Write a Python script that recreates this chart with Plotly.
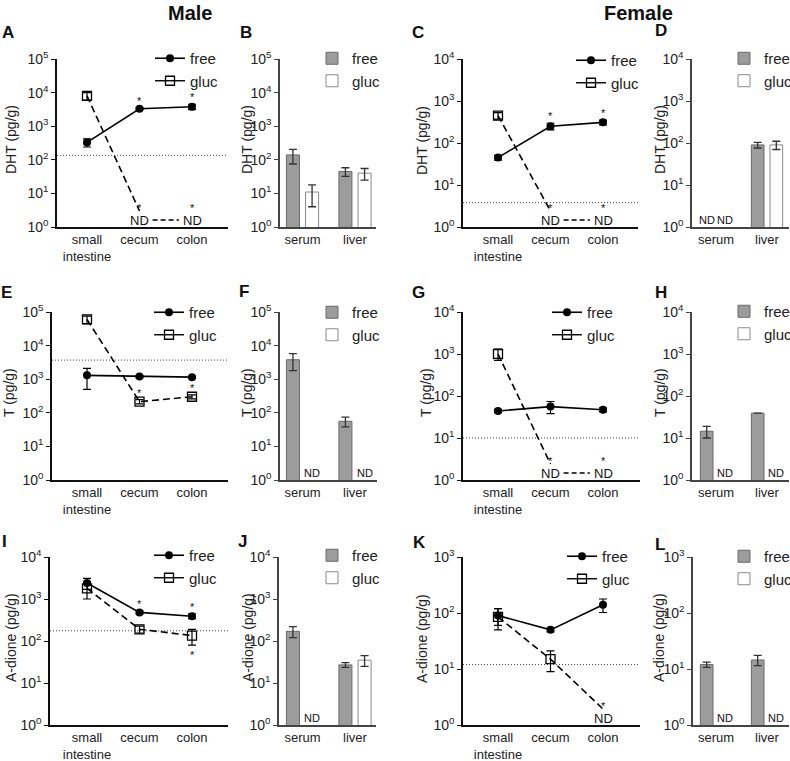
import math
import plotly.graph_objects as go

FONT = "Liberation Sans, Arial, Helvetica, sans-serif"
W, H = 790, 761

SITES = ["small<br>intestine", "cecum", "colon"]
TISSUES = ["serum", "liver"]

# ---------------- data (pg/g); None = not detected (ND) ----------------
# Male DHT
A_free = [330, 3300, 3800]
A_free_se = [90, 250, 700]
A_gluc = [8000, None, None]
A_gluc_se = [2000, None, None]
A_lod = 135
A_sig = [("free", 1, "up"), ("free", 2, "up"), ("gluc", 1, "up"), ("gluc", 2, "up")]

B_free = [140, 45]
B_free_se = [65, 13]
B_gluc = [11, 40]
B_gluc_se = [7, 15]

# Female DHT
C_free = [45, 250, 310]
C_free_se = [6, 45, 40]
C_gluc = [450, None, None]
C_gluc_se = [80, None, None]
C_lod = 3.8
C_sig = [("free", 1, "up"), ("free", 2, "up"), ("gluc", 1, "up"), ("gluc", 2, "up")]

D_free = [None, 90]
D_free_se = [None, 14]
D_gluc = [None, 90]
D_gluc_se = [None, 20]

# Male T
E_free = [1300, 1200, 1150]
E_free_se = [800, 80, 80]
E_gluc = [60000, 215, 300]
E_gluc_se = [15000, 30, 40]
E_lod = 3700
E_sig = [("gluc", 1, "up"), ("gluc", 2, "up")]

F_free = [3800, 56]
F_free_se = [2000, 18]
F_gluc = [None, None]
F_gluc_se = [None, None]

# Female T
G_free = [44, 56, 47]
G_free_se = [4, 18, 5]
G_gluc = [1000, None, None]
G_gluc_se = [300, None, None]
G_lod = 10
G_sig = [("gluc", 1, "up"), ("gluc", 2, "up")]

H_free = [14.5, 39]
H_free_se = [4.5, None]
H_gluc = [None, None]
H_gluc_se = [None, None]

# Male A-dione
I_free = [2400, 480, 390]
I_free_se = [700, 40, 50]
I_gluc = [1800, 190, 135]
I_gluc_se = [800, 35, 55]
I_lod = 175
I_sig = [("free", 1, "up"), ("free", 2, "up"), ("gluc", 2, "down")]

J_free = [170, 27]
J_free_se = [50, 3.5]
J_gluc = [None, 35]
J_gluc_se = [None, 10]

# Female A-dione
K_free = [90, 50, 140]
K_free_se = [30, 4, 38]
K_gluc = [85, 15, None]
K_gluc_se = [35, 6, None]
K_lod = 12
K_sig = [("gluc", 2, "up")]

L_free = [12, 14.5]
L_free_se = [1.3, 3]
L_gluc = [None, None]
L_gluc_se = [None, None]

# ---------------- panel layout (pixel positions) ----------------
ROWS = [(59, 227), (312, 480), (557, 725)]
panels = [
    dict(letter="A", kind="line", free=A_free, fse=A_free_se, gluc=A_gluc, gse=A_gluc_se, lod=A_lod, sig=A_sig,
         ylab="DHT (pg/g)", top=5, lr=(57, 228), row=0, cat=(87, 52.5), leg=(191, 57), lpos=(8, 32), ylpos=11),
    dict(letter="B", kind="bar", free=B_free, fse=B_free_se, gluc=B_gluc, gse=B_gluc_se,
         ylab="DHT (pg/g)", top=5, lr=(280, 376), row=0, cat=(302.5, 52.5), leg=(353, 57), lpos=(246, 32), ylpos=247),
    dict(letter="C", kind="line", free=C_free, fse=C_free_se, gluc=C_gluc, gse=C_gluc_se, lod=C_lod, sig=C_sig,
         ylab="DHT (pg/g)", top=4, lr=(463, 638), row=0, cat=(498, 52.5), leg=(612, 59), lpos=(418, 32), ylpos=422),
    dict(letter="D", kind="bar", free=D_free, fse=D_free_se, gluc=D_gluc, gse=D_gluc_se,
         ylab="DHT (pg/g)", top=4, lr=(692, 789), row=0, cat=(716, 51), leg=(765, 57), lpos=(661, 31), ylpos=660),
    dict(letter="E", kind="line", free=E_free, fse=E_free_se, gluc=E_gluc, gse=E_gluc_se, lod=E_lod, sig=E_sig,
         ylab="T (pg/g)", top=5, lr=(52, 228), row=1, cat=(87, 52.5), leg=(190, 311), lpos=(6, 292), ylpos=9),
    dict(letter="F", kind="bar", free=F_free, fse=F_free_se, gluc=F_gluc, gse=F_gluc_se,
         ylab="T (pg/g)", top=5, lr=(280, 377), row=1, cat=(302.5, 52.5), leg=(353, 311), lpos=(244, 291), ylpos=247),
    dict(letter="G", kind="line", free=G_free, fse=G_free_se, gluc=G_gluc, gse=G_gluc_se, lod=G_lod, sig=G_sig,
         ylab="T (pg/g)", top=4, lr=(463, 640), row=1, cat=(498, 52.5), leg=(588, 311), lpos=(418, 292), ylpos=426),
    dict(letter="H", kind="bar", free=H_free, fse=H_free_se, gluc=H_gluc, gse=H_gluc_se,
         ylab="T (pg/g)", top=4, lr=(692, 789), row=1, cat=(716, 51), leg=(765, 310), lpos=(661, 292), ylpos=660),
    dict(letter="I", kind="line", free=I_free, fse=I_free_se, gluc=I_gluc, gse=I_gluc_se, lod=I_lod, sig=I_sig,
         ylab="A-dione (pg/g)", top=4, lr=(50, 228), row=2, cat=(87, 52.5), leg=(190, 554), lpos=(4, 541), ylpos=11),
    dict(letter="J", kind="bar", free=J_free, fse=J_free_se, gluc=J_gluc, gse=J_gluc_se,
         ylab="A-dione (pg/g)", top=4, lr=(279, 376), row=2, cat=(302.5, 52.5), leg=(353, 554), lpos=(243, 541), ylpos=248),
    dict(letter="K", kind="line", free=K_free, fse=K_free_se, gluc=K_gluc, gse=K_gluc_se, lod=K_lod, sig=K_sig,
         ylab="A-dione (pg/g)", top=3, lr=(463, 640), row=2, cat=(498, 52.5), leg=(603, 555), lpos=(419, 542), ylpos=422),
    dict(letter="L", kind="bar", free=L_free, fse=L_free_se, gluc=L_gluc, gse=L_gluc_se,
         ylab="A-dione (pg/g)", top=3, lr=(693, 789), row=2, cat=(716, 51), leg=(765, 555), lpos=(660, 544), ylpos=659),
]

BAR_GAP = 0.27
BAR_GROUP_GAP = 0.32


def px_x(px):
    return px / W


def px_y(py):
    return 1 - py / H


def sfx(k):
    return "" if k == 1 else str(k)


fig = go.Figure()
layout = {}
annotations = []

for k, p in enumerate(panels, start=1):
    xa, ya = "x" + sfx(k), "y" + sfx(k)
    lg = "legend" + sfx(k)
    L, R = p["lr"]
    T, B = ROWS[p["row"]]
    c0, s = p["cat"]
    xr = [(L - c0) / s, (R - c0) / s]
    top = p["top"]
    pxdec = (B - T) / top
    cats = SITES if p["kind"] == "line" else TISSUES
    n = len(cats)
    axc = "#111" if p["kind"] == "line" else "#444"

    if p["kind"] == "line":
        free, fse, gluc, gse = p["free"], p["fse"], p["gluc"], p["gse"]
        xs = list(range(n))
        nd_line_y = 10 ** (16 / pxdec)
        nd_text_y = 10 ** (7 / pxdec)
        # detection limit
        fig.add_trace(go.Scatter(x=xr, y=[p["lod"], p["lod"]], mode="lines", xaxis=xa, yaxis=ya,
                                 line=dict(color="#444", width=1, dash="1px,2px"), showlegend=False,
                                 hoverinfo="skip"))
        # gluc dashed line (ending just above ND labels)
        gy = []
        for i, v in enumerate(gluc):
            if v is not None:
                gy.append(v)
            elif (i > 0 and gluc[i - 1] is not None) or (i + 1 < n and gluc[i + 1] is not None):
                gy.append(nd_line_y)
            else:
                gy.append(None)
        fig.add_trace(go.Scatter(x=xs, y=gy, mode="lines", xaxis=xa, yaxis=ya, connectgaps=False,
                                 line=dict(color="black", width=1.6, dash="7px,4px"), showlegend=False,
                                 hoverinfo="skip"))
        # ND--ND dashed connector
        for i in range(1, n):
            if gluc[i] is None and gluc[i - 1] is None:
                fig.add_trace(go.Scatter(x=[i - 1 + 0.25, i - 0.25], y=[nd_text_y, nd_text_y], mode="lines",
                                         xaxis=xa, yaxis=ya, line=dict(color="black", width=1.5, dash="5px,3px"),
                                         showlegend=False, hoverinfo="skip"))
        # free
        fig.add_trace(go.Scatter(x=xs, y=free, mode="lines+markers", xaxis=xa, yaxis=ya, name="free",
                                 legend=lg, legendgroup="free" + str(k),
                                 line=dict(color="black", width=1.6),
                                 marker=dict(symbol="circle", size=8, color="black"),
                                 error_y=dict(type="data", array=fse, color="black", thickness=1.2, width=4)))
        # gluc markers
        fig.add_trace(go.Scatter(x=xs, y=gluc, mode="markers", xaxis=xa, yaxis=ya, showlegend=False,
                                 marker=dict(symbol="square-open", size=9, color="black", line=dict(width=1.3)),
                                 error_y=dict(type="data", array=gse, color="black", thickness=1.2, width=4)))
        # gluc legend entry
        fig.add_trace(go.Scatter(x=[None], y=[None], mode="lines+markers", xaxis=xa, yaxis=ya, name="gluc",
                                 legend=lg, legendgroup="gluc" + str(k),
                                 line=dict(color="black", width=1.4),
                                 marker=dict(symbol="square-open", size=9, color="black", line=dict(width=1.3))))
        # ND labels
        for i, v in enumerate(gluc):
            if v is None:
                annotations.append(dict(x=i, y=0, xref=xa, yref=ya + " domain", text="ND", showarrow=False,
                                        yanchor="bottom", yshift=-3,
                                        font=dict(size=13, family=FONT, color="#111")))
        # significance stars
        for series, i, where in p["sig"]:
            vals = free if series == "free" else gluc
            ses = fse if series == "free" else gse
            v = vals[i]
            if v is None:
                yv, sh = nd_line_y, 3
            elif where == "up":
                yv, sh = v + (ses[i] or 0), 7
            else:
                yv, sh = v - (ses[i] or 0), -10
            annotations.append(dict(x=i, y=math.log10(yv), xref=xa, yref=ya, text="*", showarrow=False,
                                    yshift=sh, font=dict(size=11, family=FONT, color="#111")))
    else:
        xs = list(range(n))
        fig.add_trace(go.Bar(x=xs, y=p["free"], xaxis=xa, yaxis=ya, name="free", legend=lg,
                             legendgroup="free" + str(k),
                             marker=dict(color="#9c9c9c", line=dict(color="#6a6a6a", width=1)),
                             error_y=dict(type="data", array=p["fse"], color="#333", thickness=1.3, width=4)))
        fig.add_trace(go.Bar(x=xs, y=p["gluc"], xaxis=xa, yaxis=ya, name="gluc", legend=lg,
                             legendgroup="gluc" + str(k),
                             marker=dict(color="white", line=dict(color="#8a8a8a", width=1)),
                             error_y=dict(type="data", array=p["gse"], color="#333", thickness=1.3, width=4)))
        off = (1 - BAR_GAP) / 4
        for vals, sign in ((p["free"], -1), (p["gluc"], 1)):
            for i, v in enumerate(vals):
                if v is None:
                    annotations.append(dict(x=i + sign * off, y=0, xref=xa, yref=ya + " domain", text="ND",
                                            showarrow=False, yanchor="bottom", yshift=-1,
                                            font=dict(size=11, family=FONT, color="#111")))

    layout["xaxis" + sfx(k)] = dict(domain=[px_x(L), px_x(R)], range=xr, tickvals=list(range(n)), ticktext=cats,
                                    showline=True, linecolor=axc, linewidth=1.5, ticks="", ticklen=0,
                                    showgrid=False, zeroline=False, anchor=ya,
                                    tickfont=dict(size=13, family=FONT, color="#222"))
    layout["yaxis" + sfx(k)] = dict(domain=[px_y(B), px_y(T)], type="log", range=[0, top],
                                    tickvals=[10 ** d for d in range(top + 1)],
                                    ticktext=["10<sup>%d</sup>" % d for d in range(top + 1)],
                                    showline=True, linecolor=axc, linewidth=1.5, ticks="outside", ticklen=4,
                                    tickwidth=1, tickcolor=axc, showgrid=False, zeroline=False, anchor=xa,
                                    tickfont=dict(size=14, family=FONT, color="#222"))
    tx, ty = p["leg"]
    layout[lg] = dict(x=px_x(tx - 41), y=px_y(ty - 15), xanchor="left", yanchor="top",
                      bgcolor="rgba(0,0,0,0)", borderwidth=0, traceorder="grouped", tracegroupgap=0,
                      font=dict(size=15, family=FONT, color="#222"), itemwidth=30)
    # panel letter
    lx, ly = p["lpos"]
    annotations.append(dict(x=px_x(lx), y=px_y(ly), xref="paper", yref="paper", text="<b>%s</b>" % p["letter"],
                            showarrow=False, xanchor="center", yanchor="middle",
                            font=dict(size=17, family=FONT, color="#111")))
    # y title
    annotations.append(dict(x=px_x(p["ylpos"]), y=px_y((T + B) / 2 - 3), xref="paper", yref="paper",
                            text=p["ylab"], textangle=-90, showarrow=False, xanchor="center", yanchor="middle",
                            font=dict(size=14, family=FONT, color="#222")))

annotations.append(dict(x=px_x(190), y=px_y(13), xref="paper", yref="paper", text="<b>Male</b>",
                        showarrow=False, xanchor="center", yanchor="middle",
                        font=dict(size=20, family=FONT, color="#111")))
annotations.append(dict(x=px_x(638), y=px_y(13), xref="paper", yref="paper", text="<b>Female</b>",
                        showarrow=False, xanchor="center", yanchor="middle",
                        font=dict(size=20, family=FONT, color="#111")))

fig.update_layout(width=W, height=H, margin=dict(l=0, r=0, t=0, b=0, autoexpand=False),
                  paper_bgcolor="white", plot_bgcolor="white", barmode="group",
                  bargap=BAR_GAP, bargroupgap=BAR_GROUP_GAP, annotations=annotations,
                  font=dict(family=FONT), **layout)

# place the figure at the page origin (no default body margin), no mode bar
fig.write_html("out.html", config={"displayModeBar": False},
               post_script="document.body.style.margin='0px';")
